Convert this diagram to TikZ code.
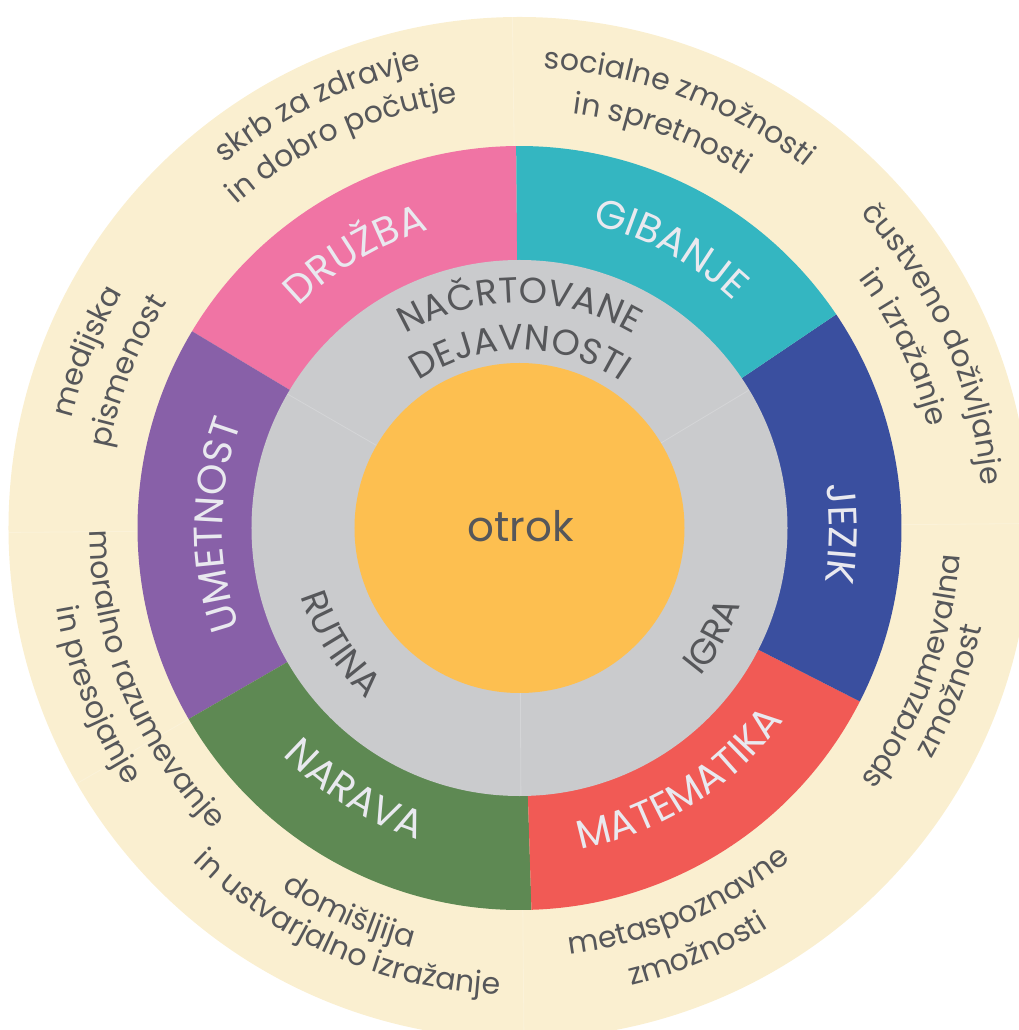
\documentclass[tikz,border=0pt]{standalone}
\usepackage{fontspec}
\setmainfont{Poppins}
\usetikzlibrary{decorations.text}

\definecolor{okvir}{HTML}{FAEFD0}
\definecolor{druzba}{HTML}{F074A4}
\definecolor{gibanje}{HTML}{34B6C1}
\definecolor{jezik}{HTML}{3A4F9F}
\definecolor{matematika}{HTML}{F15A55}
\definecolor{narava}{HTML}{5E8953}
\definecolor{umetnost}{HTML}{8860A8}
\definecolor{siva}{HTML}{CACBCD}
\definecolor{sredina}{HTML}{FDBF50}
\definecolor{pisava}{HTML}{56575A}
\definecolor{svetla}{HTML}{E9E9EF}

\newcommand{\zunanji}{\fontsize{30}{36}\selectfont\color{pisava}}
\newcommand{\podrocje}{\fontsize{40}{48}\selectfont\color{svetla}}
\newcommand{\oblika}{\fontsize{36}{43}\selectfont\color{pisava}}

\begin{document}
\begin{tikzpicture}[x=1pt, y=1pt,
  napis/.style={decorate, decoration={text along path, text align=center, text={#1}}},
  sled/.style={white, opacity=0.2, line width=0.8pt}]
  \useasboundingbox (-519.5,-502) rectangle (499.5,528);
  % zunanji obroc
  \fill[okvir] (0,0) circle (511);
  \foreach \a in {0.5,90.8,180.5,210,270.5}
    \draw[sled] (\a:382) -- (\a:511);
  % podrocja
  \fill[druzba] (0,0) -- (90.5:382) arc[start angle=90.5, end angle=149, radius=382] -- cycle;
  \fill[umetnost] (0,0) -- (149:382) arc[start angle=149, end angle=210, radius=382] -- cycle;
  \fill[narava] (0,0) -- (210:382) arc[start angle=210, end angle=271.8, radius=382] -- cycle;
  \fill[matematika] (0,0) -- (271.8:382) arc[start angle=271.8, end angle=333, radius=382] -- cycle;
  \fill[jezik] (0,0) -- (333:382) arc[start angle=333, end angle=394, radius=382] -- cycle;
  \fill[gibanje] (0,0) -- (34:382) arc[start angle=34, end angle=90.5, radius=382] -- cycle;
  % oblike dela
  \fill[siva] (0,0) circle (268);
  \foreach \a in {31,150,270.3}
    \draw[sled] (\a:165) -- (\a:268);
  % otrok
  \fill[sredina] (0,0) circle (165);
  \node[font=\fontsize{42}{50}\selectfont, text=pisava] (otrok) at (1,2) {otrok};

  % napisi podrocij
  \path[napis={|\podrocje|DRUŽBA}] (180.9:312) arc[start angle=180.9, end angle=60.9, radius=312];
  \path[napis={|\podrocje|GIBANJE}] (121.5:312) arc[start angle=121.5, end angle=1.5, radius=312];
  \path[napis={|\podrocje|JEZIK}] (59:310) arc[start angle=59, end angle=-61, radius=310];
  \path[napis={|\podrocje|UMETNOST}] (239.4:297) arc[start angle=239.4, end angle=119.4, radius=297];
  \path[napis={|\podrocje|MATEMATIKA}] (-117.6:327) arc[start angle=-117.6, end angle=2.4, radius=327];
  \path[napis={|\podrocje|NARAVA}] (177.9:328) arc[start angle=177.9, end angle=297.9, radius=328];

  % napisi oblik dela
  \path[napis={|\oblika|NAČRTOVANE}] (150:225) arc[start angle=150, end angle=30, radius=225];
  \path[napis={|\oblika|DEJAVNOSTI}] (150:178) arc[start angle=150, end angle=30, radius=178];
  \path[napis={|\oblika|RUTINA}] (152.8:229) arc[start angle=152.8, end angle=272.8, radius=229];
  \path[napis={|\oblika|IGRA}] (-89.3:234) arc[start angle=-89.3, end angle=30.7, radius=234];

  % zunanji napisi, zgoraj
  \path[napis={|\zunanji|skrb za zdravje}] (175.5:469) arc[start angle=175.5, end angle=55.5, radius=469];
  \path[napis={|\zunanji|in dobro počutje}] (174.7:430) arc[start angle=174.7, end angle=54.7, radius=430];
  \path[napis={|\zunanji|socialne zmožnosti}] (129.3:460) arc[start angle=129.3, end angle=9.3, radius=460];
  \path[napis={|\zunanji|in spretnosti}] (130.1:418) arc[start angle=130.1, end angle=10.1, radius=418];
  \path[napis={|\zunanji|čustveno doživljanje}] (84:464) arc[start angle=84, end angle=-36, radius=464];
  \path[napis={|\zunanji|in izražanje}] (85.1:421) arc[start angle=85.1, end angle=-34.9, radius=421];
  \path[napis={|\zunanji|medijska}] (217.8:461) arc[start angle=217.8, end angle=97.8, radius=461];
  \path[napis={|\zunanji|pismenost}] (218.2:418) arc[start angle=218.2, end angle=98.2, radius=418];
  % zunanji napisi, spodaj
  \path[napis={|\zunanji|sporazumevalna}] (-80:441) arc[start angle=-80, end angle=40, radius=441];
  \path[napis={|\zunanji|zmožnost}] (-80.7:473) arc[start angle=-80.7, end angle=39.3, radius=473];
  \path[napis={|\zunanji|metaspoznavne}] (-127:429) arc[start angle=-127, end angle=-7, radius=429];
  \path[napis={|\zunanji|zmožnosti}] (-127.2:471) arc[start angle=-127.2, end angle=-7.2, radius=471];
  \path[napis={|\zunanji|domišljija}] (186.1:433) arc[start angle=186.1, end angle=306.1, radius=433];
  \path[napis={|\zunanji|in ustvarjalno izražanje}] (186.6:467) arc[start angle=186.6, end angle=306.6, radius=467];
  \path[napis={|\zunanji|moralno razumevanje}] (142.4:430) arc[start angle=142.4, end angle=262.4, radius=430];
  \path[napis={|\zunanji|in presojanje}] (141.5:470) arc[start angle=141.5, end angle=261.5, radius=470];
\end{tikzpicture}
\end{document}
